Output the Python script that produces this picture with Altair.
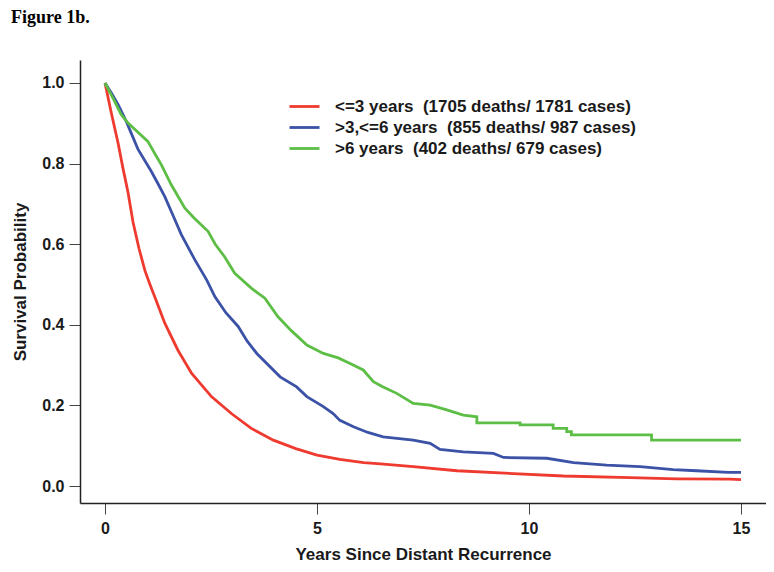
import altair as alt
import pandas as pd

series_names = [
    "<=3 years\u00a0 (1705 deaths/ 1781 cases)",
    ">3,<=6 years\u00a0 (855 deaths/ 987 cases)",
    ">6 years\u00a0 (402 deaths/ 679 cases)",
]
colors = ["#EE3A2F", "#3B52A6", "#5DBE46"]

red_t = [0, 0.15, 0.31, 0.43, 0.54, 0.66, 0.8, 0.94, 1.06, 1.17, 1.41, 1.72, 2.04, 2.51, 2.98, 3.45,
         3.97, 4.5, 5.0, 5.54, 6.1, 6.5, 7.27, 8.3, 9.63, 10.81, 12.38, 13.48, 14.74, 15.0]
red_s = [1.0, 0.925, 0.85, 0.785, 0.73, 0.655, 0.59, 0.535, 0.50, 0.47, 0.404, 0.337, 0.280, 0.222, 0.180, 0.143,
         0.114, 0.093, 0.077, 0.066, 0.058, 0.055, 0.048, 0.038, 0.031, 0.025, 0.021, 0.018, 0.017, 0.016]

blue_t = [0, 0.15, 0.31, 0.5, 0.62, 0.78, 1.09, 1.25, 1.41, 1.61, 1.80, 2.12, 2.40, 2.59, 2.85, 3.14,
          3.35, 3.58, 4.13, 4.52, 4.76, 5.15, 5.38, 5.54, 5.86, 6.2, 6.56, 7.27, 7.67, 7.90, 8.45,
          9.16, 9.40, 10.42, 11.05, 11.83, 12.62, 13.40, 13.95, 14.70, 15.0]
blue_s = [1.0, 0.975, 0.946, 0.905, 0.875, 0.835, 0.781, 0.75, 0.718, 0.67, 0.624, 0.561, 0.511, 0.47, 0.43, 0.396,
          0.36, 0.329, 0.271, 0.246, 0.222, 0.197, 0.180, 0.163, 0.147, 0.133, 0.122, 0.114, 0.106, 0.091, 0.085,
          0.081, 0.071, 0.069, 0.058, 0.052, 0.048, 0.041, 0.038, 0.034, 0.034]

green_t = [0, 0.2, 0.38, 0.55, 0.70, 1.01, 1.2, 1.33, 1.56, 1.88, 2.1, 2.43, 2.6, 2.82, 3.06, 3.45,
           3.77, 4.08, 4.4, 4.76, 5.15, 5.5, 5.78, 6.09, 6.33, 6.56, 6.88, 7.27, 7.67, 8.06, 8.45,
           8.77, 8.77, 9.79, 9.79, 10.57, 10.57, 10.89, 10.89, 11.0, 11.0, 12.89, 12.89, 15.0]
green_s = [1.0, 0.96, 0.922, 0.90, 0.885, 0.855, 0.82, 0.797, 0.748, 0.690, 0.665, 0.632, 0.60, 0.569, 0.528, 0.491,
           0.466, 0.420, 0.385, 0.350, 0.329, 0.318, 0.304, 0.288, 0.259, 0.246, 0.230, 0.205, 0.201, 0.189, 0.176,
           0.172, 0.157, 0.157, 0.152, 0.152, 0.143, 0.143, 0.135, 0.135, 0.127, 0.127, 0.114, 0.114]

x_ticks = [0, 5, 10, 15]
y_ticks = [0.0, 0.2, 0.4, 0.6, 0.8, 1.0]

rows = []
for name, ts, ss in zip(series_names, [red_t, blue_t, green_t], [red_s, blue_s, green_s]):
    for i, (t, s) in enumerate(zip(ts, ss)):
        rows.append({"group": name, "time": t, "surv": s, "idx": i})
df = pd.DataFrame(rows)

FONT = "Liberation Sans"

chart = alt.Chart(df).mark_line(strokeWidth=2.8).encode(
    x=alt.X("time:Q",
            scale=alt.Scale(domain=[-0.59, 15.59], nice=False, zero=False),
            axis=alt.Axis(values=x_ticks, title="Years Since Distant Recurrence", format="d",
                          grid=False, tickSize=11, labelPadding=6, titlePadding=10)),
    y=alt.Y("surv:Q",
            scale=alt.Scale(domain=[-0.042, 1.057], nice=False, zero=False),
            axis=alt.Axis(values=y_ticks, title="Survival Probability", format=".1f",
                          grid=False, tickSize=11, labelPadding=5, titlePadding=12)),
    color=alt.Color("group:N",
                    scale=alt.Scale(domain=series_names, range=colors),
                    legend=alt.Legend(title=None, orient="none", legendX=213, legendY=35,
                                      symbolType="M-1.5,0H1.5", symbolSize=400, symbolStrokeWidth=2.8,
                                      labelFont=FONT, labelFontSize=17, labelFontWeight="bold",
                                      labelColor="#1a1a1a", labelOffset=19, rowPadding=1,
                                      labelLimit=600)),
    order=alt.Order("idx:Q"),
).properties(
    width=686,
    height=443,
    title=alt.TitleParams("Figure 1b.", anchor="start", frame="group", font="Liberation Serif",
                          fontSize=18, fontWeight="bold", color="black", dx=-69, offset=33),
    autosize=alt.AutoSizeParams(type="none"),
    padding={"left": 72, "top": 52, "right": 0, "bottom": 61},
).configure_view(
    stroke=None
).configure_axis(
    domainColor="#222222", domainWidth=1.5, tickColor="#444444", tickWidth=1,
    labelFont=FONT, labelFontSize=16, labelFontWeight="bold", labelColor="#1a1a1a",
    titleFont=FONT, titleFontSize=17, titleFontWeight="bold", titleColor="#1a1a1a",
)

chart.save("out.html", embed_options={"renderer": "svg", "actions": False})
